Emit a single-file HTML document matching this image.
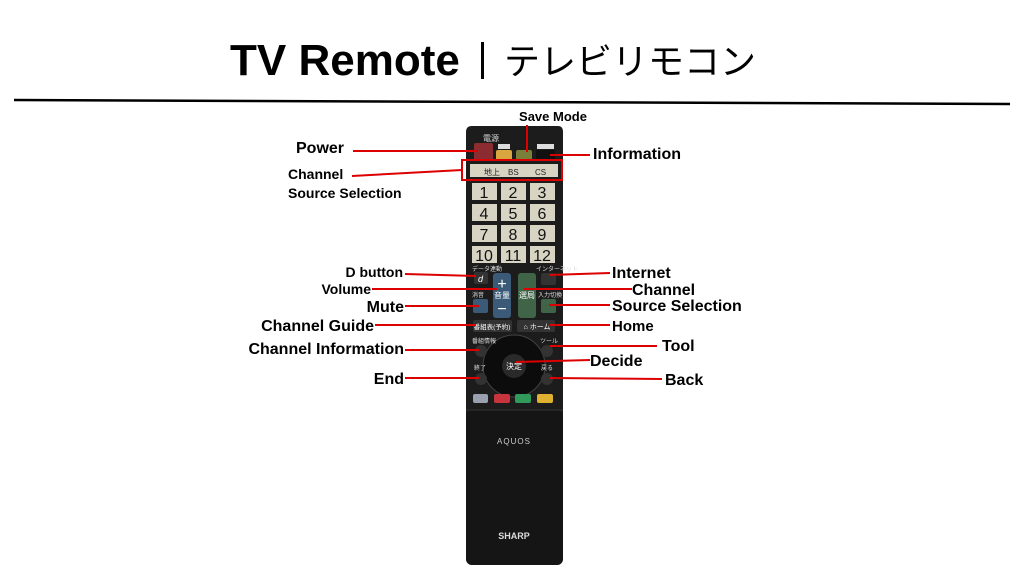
<!DOCTYPE html>
<html><head><meta charset="utf-8"><style>
html,body{margin:0;padding:0;background:#fff;}
body{width:1024px;height:576px;overflow:hidden;position:relative;font-family:"Liberation Sans","Noto Sans CJK JP",sans-serif;}
</style></head><body>
<svg width="1024" height="576" viewBox="0 0 1024 576" xmlns="http://www.w3.org/2000/svg" style="position:absolute;left:0;top:0">
<text x="230" y="75" font-family="Liberation Sans, sans-serif" font-weight="bold" font-size="44" fill="#000">TV Remote</text>
<rect x="481" y="42" width="3" height="37" fill="#000"/>
<text x="504" y="74" font-family="Noto Sans CJK JP, sans-serif" font-size="36" fill="#000">テレビリモコン</text>
<line x1="14" y1="100" x2="1010" y2="104" stroke="#000" stroke-width="2.5"/>

<path d="M466 132 Q466 126 472 126 L558 126 Q563 126 563 132 L563 558 Q563 565 556 565 L473 565 Q466 565 466 558 Z" fill="#1c1c1c"/>
<rect x="466" y="410" width="97" height="155" rx="6" fill="#151515"/>
<line x1="466" y1="410" x2="563" y2="410" stroke="#333" stroke-width="1"/>
<text x="483" y="141" font-size="8" fill="#ddd">電源</text>
<rect x="474" y="143" width="19" height="17" rx="2" fill="#8a2c30"/>
<rect x="496" y="150" width="16" height="10" rx="2" fill="#d9a640"/>
<rect x="516" y="150" width="16" height="10" rx="2" fill="#7a7f3a"/>
<rect x="536" y="150" width="19" height="10" rx="2" fill="#111"/>
<rect x="498" y="144" width="12" height="5" fill="#ddd"/>
<rect x="537" y="144" width="17" height="5" fill="#ddd"/>
<rect x="470" y="164" width="88" height="13" fill="#d8d4c4"/>
<text x="484" y="175" font-size="8" fill="#222">地上</text>
<text x="508" y="175" font-size="8" fill="#222">BS</text>
<text x="535" y="175" font-size="8" fill="#222">CS</text>
<rect x="462" y="160" width="100" height="20" fill="none" stroke="#d00" stroke-width="2"/>
<g fill="#d8d4c4">
<rect x="472" y="183" width="25" height="17"/><rect x="501" y="183" width="25" height="17"/><rect x="530" y="183" width="25" height="17"/>
<rect x="472" y="204" width="25" height="17"/><rect x="501" y="204" width="25" height="17"/><rect x="530" y="204" width="25" height="17"/>
<rect x="472" y="225" width="25" height="17"/><rect x="501" y="225" width="25" height="17"/><rect x="530" y="225" width="25" height="17"/>
<rect x="472" y="246" width="25" height="17"/><rect x="501" y="246" width="25" height="17"/><rect x="530" y="246" width="25" height="17"/>
</g>
<g font-size="16" fill="#111" text-anchor="middle">
<text x="484" y="198">1</text><text x="513" y="198">2</text><text x="542" y="198">3</text>
<text x="484" y="219">4</text><text x="513" y="219">5</text><text x="542" y="219">6</text>
<text x="484" y="240">7</text><text x="513" y="240">8</text><text x="542" y="240">9</text>
<text x="484" y="261">10</text><text x="513" y="261">11</text><text x="542" y="261">12</text>
</g>
<text x="472" y="271" font-size="6" fill="#ddd">データ連動</text>
<text x="536" y="271" font-size="6" fill="#ddd">インターネット</text>
<rect x="474" y="272" width="14" height="12" rx="2" fill="#333"/>
<text x="478" y="282" font-size="9" fill="#fff" font-style="italic">d</text>
<rect x="541" y="273" width="15" height="12" rx="2" fill="#333"/>
<rect x="493" y="273" width="18" height="45" rx="3" fill="#3a5a78"/>
<text x="502" y="289" font-size="16" fill="#fff" text-anchor="middle">+</text>
<text x="502" y="298" font-size="8" fill="#fff" text-anchor="middle">音量</text>
<text x="502" y="314" font-size="16" fill="#fff" text-anchor="middle">−</text>
<rect x="518" y="273" width="18" height="45" rx="3" fill="#3f6448"/>
<text x="527" y="298" font-size="8" fill="#fff" text-anchor="middle">選局</text>
<text x="472" y="297" font-size="6" fill="#ddd">消音</text>
<text x="538" y="297" font-size="6" fill="#ddd">入力切換</text>
<rect x="473" y="299" width="15" height="14" rx="2" fill="#3a5a78"/>
<rect x="541" y="299" width="15" height="14" rx="2" fill="#3f6448"/>
<rect x="473" y="320" width="39" height="12" rx="2" fill="#333"/>
<text x="492" y="329" font-size="6.5" fill="#fff" text-anchor="middle">番組表(予約)</text>
<rect x="517" y="320" width="38" height="12" rx="2" fill="#333"/>
<text x="537" y="329" font-size="7" fill="#fff" text-anchor="middle">⌂ ホーム</text>
<circle cx="514" cy="366" r="31" fill="#0c0c0c" stroke="#444" stroke-width="1"/>
<circle cx="514" cy="366" r="12" fill="#2a2a2a"/>
<text x="514" y="369" font-size="8" fill="#fff" text-anchor="middle">決定</text>
<text x="472" y="343" font-size="6" fill="#ddd">番組情報</text>
<text x="540" y="343" font-size="6" fill="#ddd">ツール</text>
<text x="474" y="370" font-size="6" fill="#ddd">終了</text>
<text x="541" y="370" font-size="6" fill="#ddd">戻る</text>
<circle cx="481" cy="351" r="6" fill="#333"/><circle cx="547" cy="351" r="6" fill="#333"/>
<circle cx="481" cy="379" r="6" fill="#333"/><circle cx="547" cy="379" r="6" fill="#333"/>
<rect x="473" y="394" width="15" height="9" rx="2" fill="#9aa0b0"/>
<rect x="494" y="394" width="16" height="9" rx="2" fill="#c8343c"/>
<rect x="515" y="394" width="16" height="9" rx="2" fill="#2f9a5a"/>
<rect x="537" y="394" width="16" height="9" rx="2" fill="#e0b030"/>
<text x="514" y="444" font-size="8" fill="#ccc" text-anchor="middle" letter-spacing="1">AQUOS</text>
<text x="514" y="539" font-size="9" fill="#ddd" font-weight="bold" text-anchor="middle">SHARP</text>

<g stroke="#d00" stroke-width="2">
<line x1="353" y1="151" x2="478" y2="151"/>
<line x1="527" y1="125" x2="527" y2="152"/>
<line x1="550" y1="155" x2="590" y2="155"/>
<line x1="352" y1="176" x2="462" y2="170"/>
<line x1="405" y1="274" x2="476" y2="276"/>
<line x1="372" y1="289" x2="497" y2="289"/>
<line x1="405" y1="306" x2="479" y2="306"/>
<line x1="375" y1="325" x2="476" y2="325"/>
<line x1="405" y1="350" x2="479" y2="350"/>
<line x1="405" y1="378" x2="479" y2="378"/>
<line x1="549" y1="275" x2="610" y2="273"/>
<line x1="524" y1="289" x2="632" y2="289"/>
<line x1="549" y1="305" x2="610" y2="305"/>
<line x1="549" y1="325" x2="610" y2="325"/>
<line x1="550" y1="346" x2="657" y2="346"/>
<line x1="516" y1="362" x2="590" y2="360"/>
<line x1="550" y1="378" x2="662" y2="379"/>
</g>
<g font-family="Liberation Sans, sans-serif" font-weight="bold" fill="#000">
<text x="553" y="121" font-size="13" text-anchor="middle">Save Mode</text>
<text x="296" y="153" font-size="16">Power</text>
<text x="593" y="159" font-size="16">Information</text>
<text x="288" y="179" font-size="14">Channel</text>
<text x="288" y="198" font-size="14">Source Selection</text>
<text x="403" y="277" font-size="14" text-anchor="end">D button</text>
<text x="371" y="294" font-size="14" text-anchor="end">Volume</text>
<text x="404" y="312" font-size="16" text-anchor="end">Mute</text>
<text x="374" y="331" font-size="16" text-anchor="end">Channel Guide</text>
<text x="404" y="354" font-size="16" text-anchor="end">Channel Information</text>
<text x="404" y="384" font-size="16" text-anchor="end">End</text>
<text x="612" y="278" font-size="16">Internet</text>
<text x="632" y="295" font-size="16">Channel</text>
<text x="612" y="311" font-size="16">Source Selection</text>
<text x="612" y="331" font-size="15">Home</text>
<text x="662" y="351" font-size="16">Tool</text>
<text x="590" y="366" font-size="16">Decide</text>
<text x="665" y="385" font-size="16">Back</text>
</g>
</svg>
</body></html>
